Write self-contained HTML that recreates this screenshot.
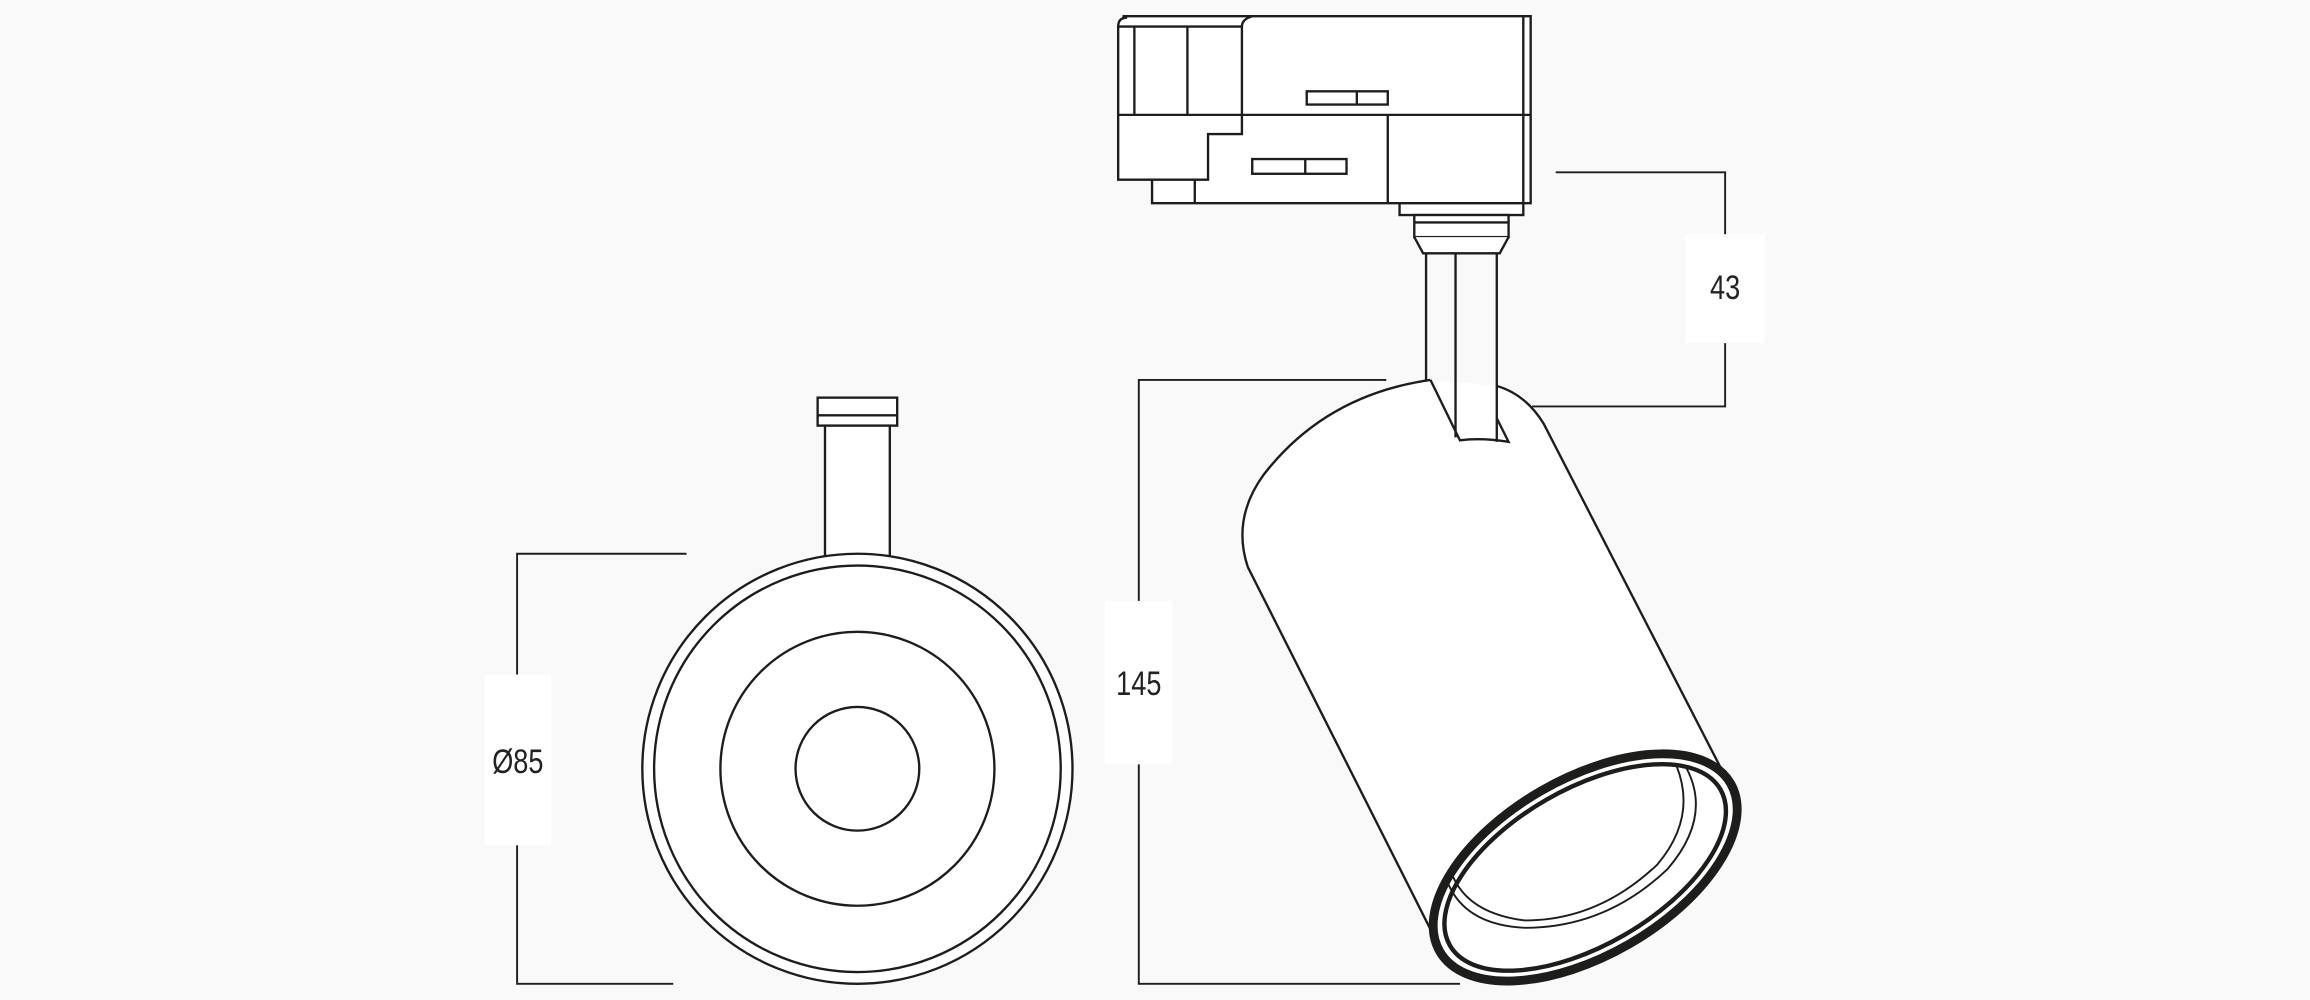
<!DOCTYPE html>
<html><head><meta charset="utf-8"><style>
html,body{margin:0;padding:0;background:#f9f9f9;}
svg{display:block}
text{font-family:"Liberation Sans",sans-serif;font-size:23px;fill:#222}
</style></head><body>
<svg width="2310" height="1000" viewBox="0 0 1568 679" preserveAspectRatio="none" xmlns="http://www.w3.org/2000/svg">
<rect width="1568" height="679" fill="#f9f9f9"/>
<g fill="none" stroke="#1d1d1b" stroke-width="1.6">
<!-- left view -->
<rect x="555" y="270" width="54" height="19" fill="#fff"/>
<line x1="555" y1="282" x2="609" y2="282"/>
<rect x="560" y="289" width="44" height="90" fill="#fff"/>
<circle cx="582" cy="522" r="146" fill="#fff"/>
<circle cx="582" cy="522" r="138"/>
<circle cx="582" cy="522" r="93"/>
<circle cx="582" cy="522" r="42"/>
<!-- dim 85 -->
<polyline points="466,376 351,376 351,668 457,668" stroke-width="1.3"/>
<!-- adapter -->
<path d="M762,11 L843,11 L1039,11 L1039,138 L782,138 L782,122 L759,122 L759,18 Q759,12 765,12 Z" fill="#fff"/>
<line x1="1034" y1="11" x2="1034" y2="138"/>
<path d="M759,18 L843,18 L843,91 L820,91 L820,122 L782,122"/>
<path d="M843,18 Q843,13 850,11"/>
<line x1="770" y1="18" x2="770" y2="78"/>
<line x1="806" y1="18" x2="806" y2="78"/>
<line x1="759" y1="78" x2="1039" y2="78"/>
<line x1="811" y1="122" x2="811" y2="138"/>
<line x1="942" y1="78" x2="942" y2="138"/>
<rect x="887" y="62" width="55" height="9"/><line x1="921" y1="62" x2="921" y2="71"/>
<rect x="850" y="108" width="64" height="10"/><line x1="886" y1="108" x2="886" y2="118"/>
<rect x="950" y="138" width="84" height="8" fill="#fff"/>
<rect x="960" y="146" width="64" height="15" fill="#fff"/>
<line x1="960" y1="151" x2="1024" y2="151"/>
<path d="M960,161 L966,172 L1018,172 L1024,161" fill="#fff"/>
<!-- body -->
<path d="M971,258 Q900,268 858,322 Q836,352 847,385 L972,633 L1175,535 L1048,288 Q1036,268 1016,262" fill="#fff"/>
<line x1="968" y1="172" x2="968" y2="258"/>
<line x1="1016" y1="172" x2="1016" y2="300"/>
<line x1="988" y1="172" x2="988" y2="297"/>
<path d="M971,258 L991,299 Q1005,297 1024,300 L1016,284"/>
<!-- front ring -->
<ellipse cx="1076" cy="589" rx="114" ry="60" transform="rotate(-30 1076 589)" fill="#fff" stroke-width="6"/>
<ellipse cx="1076" cy="589" rx="106" ry="53" transform="rotate(-30 1076 589)" stroke-width="3"/>
<path d="M983,600 Q995,628 1035,630 Q1090,630 1132,590 Q1162,555 1145,522" stroke-width="1.3"/>
<path d="M985,592 Q995,620 1035,625 Q1085,625 1125,587 Q1152,555 1138,520" stroke-width="1.3"/>
<!-- dims -->
<polyline points="941,258 773,258 773,668 991,668" stroke-width="1.3"/>
<polyline points="1056,117 1171,117 1171,276 1040,276" stroke-width="1.3"/>
</g>
<rect x="329" y="458" width="45" height="116" fill="#fff"/>
<rect x="750" y="408" width="46" height="111" fill="#fff"/>
<rect x="1144" y="159" width="54" height="74" fill="#fff"/>
<text x="351.5" y="525" text-anchor="middle" transform="translate(351.5 0) scale(0.8 1) translate(-351.5 0)">Ø85</text>
<text x="773" y="472" text-anchor="middle" transform="translate(773 0) scale(0.8 1) translate(-773 0)">145</text>
<text x="1171" y="203" text-anchor="middle" transform="translate(1171 0) scale(0.8 1) translate(-1171 0)">43</text>
</svg>
</body></html>
